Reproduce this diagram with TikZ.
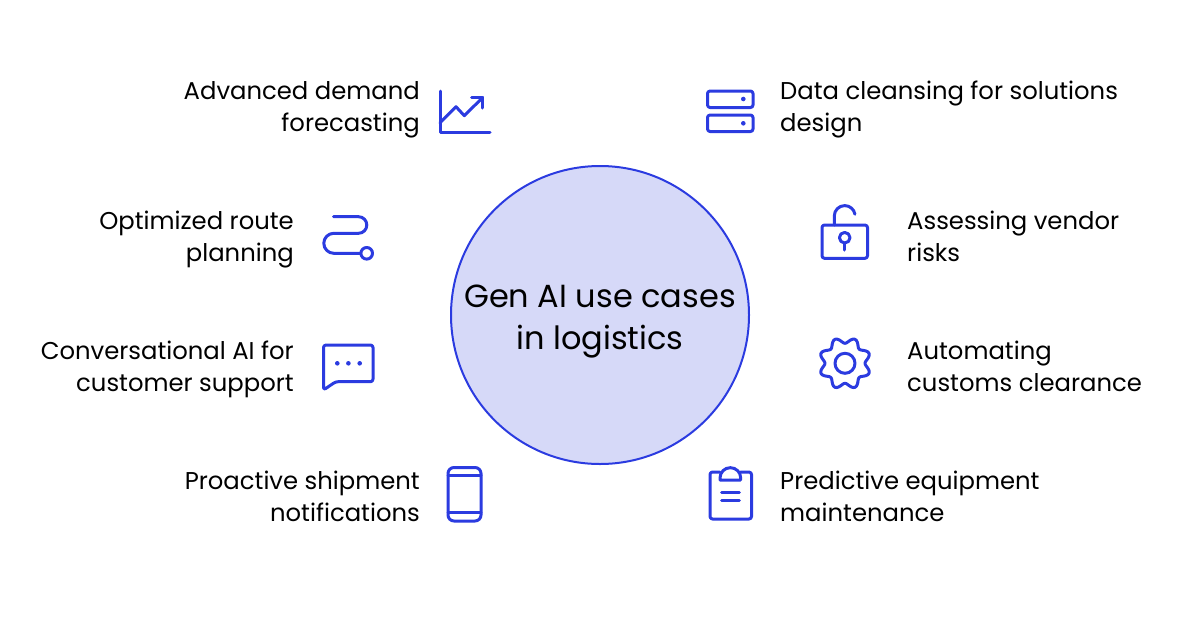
\documentclass[tikz,border=0pt]{standalone}
\usepackage{fontspec}
\setmainfont{Poppins}
\definecolor{usecaseblue}{HTML}{2B3BE0}
\definecolor{usecasefill}{HTML}{D6D9F8}
\tikzset{
  lefttext/.style={anchor=east,align=right,font=\fontsize{24.3}{32}\selectfont,text=black,inner sep=0pt,text height=40pt,text depth=8pt},
  righttext/.style={anchor=west,align=left,font=\fontsize{24.3}{32}\selectfont,text=black,inner sep=0pt,text height=40pt,text depth=8pt},
  icon/.style={draw=usecaseblue,line width=3pt,line join=round,line cap=round},
  icondot/.style={fill=usecaseblue}
}
\begin{document}
\begin{tikzpicture}[x=1pt,y=-1pt]
  \useasboundingbox (0,0) rectangle (1200,630);
  \node[circle,draw=usecaseblue,fill=usecasefill,line width=2pt,minimum size=298pt,inner sep=0pt,
    align=center,font=\fontsize{32}{42}\selectfont,text height=76pt,text depth=8pt] (hub) at (600,315) {Gen AI use cases\\in logistics};

  % left column
  \node[lefttext] (demand) at (420,115) {Advanced demand\\forecasting};
  \node[lefttext] (route) at (294,245) {Optimized route\\planning};
  \node[lefttext] (chat) at (294,375) {Conversational AI for\\customer support};
  \node[lefttext] (shipment) at (420,505) {Proactive shipment\\notifications};

  % right column
  \node[righttext] (cleansing) at (780,115) {Data cleansing for solutions\\design};
  \node[righttext] (vendor) at (907,245) {Assessing vendor\\risks};
  \node[righttext] (customs) at (907,375) {Automating\\customs clearance};
  \node[righttext] (equipment) at (780,505) {Predictive equipment\\maintenance};

  % chart
  \draw[icon] (440,91) -- (440,132) -- (490,132);
  \draw[icon] (440,122.7) -- (456,106.7) -- (464.3,115.7) -- (482.7,97.5);
  \draw[icon] (471.7,97) -- (482.7,97) -- (482.7,108);

  % server
  \draw[icon,rounded corners=2.5pt] (707.5,91) rectangle (753,107.5);
  \draw[icon,rounded corners=2.5pt] (707.5,115) rectangle (753,131.5);
  \fill[icondot] (743.3,99) circle (2.3pt);
  \fill[icondot] (743.3,123.3) circle (2.3pt);

  % route
  \draw[icon] (333.5,216.7) -- (358.5,216.7) arc[start angle=90,end angle=-90,radius=8.3pt]
    -- (333.8,233.3) arc[start angle=90,end angle=270,radius=10pt] -- (360,253.3);
  \draw[icon] (366.7,253.3) circle (5.8pt);

  % lock
  \draw[icon,rounded corners=2.5pt] (822,225) rectangle (867.5,258.3);
  \draw[icon] (834.3,225) -- (834.3,216) arc[start angle=180,end angle=10,radius=10.4pt];
  \draw[icon] (844.7,237.7) circle (5.3pt);
  \draw[icon] (844.7,243) -- (844.7,250);

  % chat
  \draw[icon,rounded corners=2.5pt] (335.7,381.7) -- (373,381.7) -- (373,345) -- (323.5,345) -- (323.5,390) -- cycle;
  \foreach \dotx in {337.3,348.4,359.7}
    \fill[icondot] (\dotx,363.3) circle (2.3pt);

  % gear
  \draw[icon] plot[smooth,domain=0:360,samples=97,variable=\t]
    ({845+(23-3*cos(8*\t))*cos(\t)},{363.3+(23-3*cos(8*\t))*sin(\t)}) -- cycle;
  \draw[icon] (845,363.3) circle (10pt);

  % phone
  \draw[icon,rounded corners=6pt] (448,467.5) rectangle (481,521);
  \draw[icon] (448,475.7) -- (481,475.7);
  \draw[icon] (448,512.3) -- (481,512.3);

  % clipboard
  \draw[icon,rounded corners=2.5pt] (720,472) -- (710,472) -- (710,519) -- (751.5,519) -- (751.5,472) -- (740.7,472);
  \draw[icon] (720,480) -- (740.7,480) -- (740.7,478) arc[start angle=0,end angle=180,radius=10.35pt] -- cycle;
  \draw[icon] (721.7,492.3) -- (739.3,492.3);
  \draw[icon] (721.7,500.7) -- (739.3,500.7);
\end{tikzpicture}
\end{document}
